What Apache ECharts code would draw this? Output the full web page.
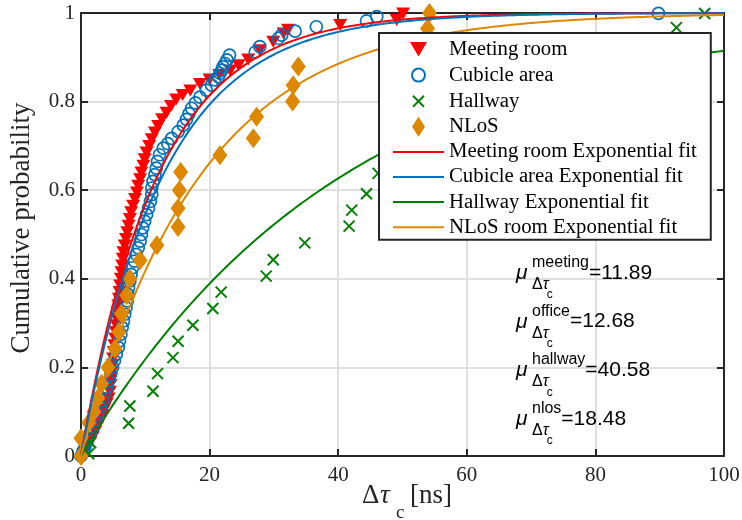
<!DOCTYPE html>
<html>
<head>
<meta charset="utf-8">
<script src="https://cdn.jsdelivr.net/npm/echarts@6/dist/echarts.min.js"></script>
<style>
  html, body { margin: 0; padding: 0; background: #ffffff; }
  #chart { width: 742px; height: 520px; }
</style>
</head>
<body>
<div id="chart"></div>
<script>
// Empirical CDF samples of the coherence delay per environment (ns, probability)
const meetingX = [0.4, 0.9, 1.4, 1.8, 2.2, 2.6, 3.0, 3.3, 3.6, 4.0, 4.3, 4.5, 4.6, 4.7, 4.8, 4.9, 5.0, 5.1, 5.2, 5.3,
  5.4, 5.5, 5.6, 5.7, 5.8, 5.9, 6.0, 6.1, 6.2, 6.3, 6.4, 6.5, 6.6, 6.8, 7.0, 7.2, 7.4, 7.6, 7.8, 8.1,
  8.4, 8.7, 8.9, 9.2, 9.4, 9.7, 9.9, 10.2, 10.6, 11.0, 11.5, 12.0, 12.6, 13.3, 14.0, 14.8, 15.8, 17.0, 18.5, 20.0,
  21.5, 23.2, 24.5, 26.0, 27.8, 29.9, 31.5, 32.2, 40.3, 49.1, 50.1];
const meetingY = [0.005, 0.017, 0.03, 0.042, 0.055, 0.067, 0.08, 0.092, 0.105, 0.118, 0.13, 0.145, 0.16, 0.175, 0.19, 0.205, 0.22, 0.235, 0.25, 0.265,
  0.28, 0.295, 0.31, 0.325, 0.34, 0.355, 0.37, 0.385, 0.40, 0.415, 0.43, 0.445, 0.46, 0.475, 0.49, 0.505, 0.52, 0.535, 0.55, 0.565,
  0.58, 0.595, 0.61, 0.625, 0.64, 0.655, 0.67, 0.685, 0.70, 0.715, 0.73, 0.745, 0.76, 0.775, 0.79, 0.805, 0.815, 0.825, 0.84, 0.85,
  0.86, 0.87, 0.882, 0.895, 0.916, 0.935, 0.954, 0.962, 0.973, 0.984, 0.999];

const cubicleX = [0.0, 0.3, 0.6, 1.0, 1.4, 1.8, 2.2, 2.6, 3.0, 3.4, 3.7, 4.0, 4.3, 4.6, 4.9, 5.2, 5.5, 5.8, 6.0, 6.2,
  6.4, 6.6, 6.8, 7.0, 7.2, 7.3, 7.4, 7.6, 7.8, 8.0, 8.3, 8.6, 8.9, 9.2, 9.4, 9.6, 9.9, 10.2, 10.5, 10.8,
  11.0, 11.0, 11.2, 11.5, 11.7, 11.9, 12.2, 12.8, 13.5, 14.1, 15.1, 15.9, 16.4, 16.8, 17.2, 17.8, 18.5, 19.5, 20.3, 20.8,
  21.4, 21.6, 21.9, 22.1, 22.4, 22.7, 23.1, 27.1, 27.8, 30.7, 31.2, 33.3, 36.6, 44.4, 46.0, 89.8];
const cubicleY = [0.0, 0.01, 0.02, 0.035, 0.05, 0.065, 0.08, 0.095, 0.11, 0.125, 0.14, 0.155, 0.17, 0.185, 0.20, 0.215, 0.23, 0.245, 0.26, 0.275,
  0.29, 0.305, 0.32, 0.335, 0.35, 0.365, 0.38, 0.395, 0.41, 0.425, 0.44, 0.455, 0.47, 0.485, 0.50, 0.515, 0.53, 0.545, 0.56, 0.575,
  0.59, 0.605, 0.62, 0.635, 0.65, 0.665, 0.68, 0.695, 0.705, 0.717, 0.732, 0.747, 0.76, 0.773, 0.785, 0.797, 0.81, 0.826, 0.837, 0.849,
  0.856, 0.864, 0.871, 0.879, 0.886, 0.894, 0.905, 0.912, 0.924, 0.943, 0.950, 0.959, 0.969, 0.982, 0.992, 0.999];

const hallwayX = [1.2, 1.5, 7.4, 7.6, 11.2, 11.9, 14.3, 15.1, 17.4, 20.5, 21.8, 28.8, 29.9, 34.8, 41.7, 42.1, 44.4, 46.2, 92.6, 97.0];
const hallwayY = [0.005, 0.03, 0.074, 0.113, 0.146, 0.186, 0.222, 0.259, 0.295, 0.333, 0.370, 0.406, 0.443, 0.481, 0.519, 0.555, 0.592, 0.638, 0.967, 0.999];

const nlosX = [0.0, 0.0, 1.2, 2.0, 2.6, 3.2, 4.2, 5.3, 5.9, 6.3, 7.1, 7.6, 9.2, 11.8, 15.1, 15.1, 15.3, 15.5, 21.6, 26.8,
  27.3, 32.9, 33.0, 33.8, 53.9, 54.2];
const nlosY = [0.0, 0.04, 0.075, 0.10, 0.13, 0.163, 0.20, 0.242, 0.28, 0.321, 0.363, 0.40, 0.442, 0.476, 0.517, 0.559, 0.60, 0.641, 0.679, 0.717,
  0.766, 0.80, 0.837, 0.879, 0.965, 1.0];

// Mean coherence delay of each exponential fit (ns)
const fitMu = [11.89, 12.68, 40.58, 18.48];
const muTags = ['meeting', 'office', 'hallway', 'nlos'];

const scatterNames = ['Meeting room', 'Cubicle area', 'Hallway', 'NLoS'];
const fitNames = ['Meeting room Exponential fit', 'Cubicle area Exponential fit', 'Hallway Exponential fit', 'NLoS room Exponential fit'];

const xTickValues = [0, 20, 40, 60, 80, 100];
const yTickLabels = ['0', '0.2', '0.4', '0.6', '0.8', '1'];

const colors = ['#FF0000', '#0072BD', '#008000', '#DE8700'];
const axisColor = '#262626';
const serif = '"Liberation Serif", "Times New Roman", serif';
const sans = '"Liberation Sans", Arial, Helvetica, sans-serif';

function pairs(xs, ys) { return xs.map((x, i) => [x, ys[i]]); }

// exponential CDF 1 - exp(-x / mu) sampled across the axis range
function fitCurve(mu) {
  const pts = [];
  for (let x = 0; x <= 100; x += 0.5) pts.push([x, 1 - Math.exp(-x / mu)]);
  return pts;
}

const chart = echarts.init(document.getElementById('chart'), null, { renderer: 'canvas' });

// marker shapes
const downTriangle = 'path://M0,0L14,0L7,12Z';
const crossPath = 'path://M0,0L10,10M10,0L0,10';
// legend icons: extra move-to points pad the bounding box so the glyph keeps its size
const legendIcons = [
  'path://M0,0M20,20M1.5,2.5L18.5,2.5L10,17Z',
  'path://M0,0M20,20M3.5,10A6.5,6.5,0,1,1,16.5,10A6.5,6.5,0,1,1,3.5,10Z',
  'path://M0,0M20,20M4.5,4.5L15.5,15.5M15.5,4.5L4.5,15.5',
  'path://M0,0M20,20M10,0L16.5,10L10,20L3.5,10Z'
];

const scatterSeries = [
  {
    name: scatterNames[0], type: 'scatter', data: pairs(meetingX, meetingY),
    symbol: downTriangle, symbolSize: [14, 12],
    itemStyle: { color: colors[0], opacity: 1 }
  },
  {
    name: scatterNames[1], type: 'scatter', data: pairs(cubicleX, cubicleY),
    symbol: 'circle', symbolSize: 12,
    itemStyle: { color: 'rgba(0,0,0,0)', borderColor: colors[1], borderWidth: 1.7, opacity: 1 }
  },
  {
    name: scatterNames[2], type: 'scatter', data: pairs(hallwayX, hallwayY),
    symbol: crossPath, symbolSize: 11,
    itemStyle: { color: 'rgba(0,0,0,0)', borderColor: colors[2], borderWidth: 2, opacity: 1 }
  },
  {
    name: scatterNames[3], type: 'scatter', data: pairs(nlosX, nlosY),
    symbol: 'diamond', symbolSize: [15, 20],
    itemStyle: { color: colors[3], opacity: 1 }
  }
];

const lineSeries = fitMu.map((mu, i) => ({
  name: fitNames[i], type: 'line', data: fitCurve(mu),
  symbol: 'none', showSymbol: false, smooth: false,
  lineStyle: { color: colors[i], width: 2 },
  itemStyle: { color: colors[i] }
}));

const legendData = scatterNames.map((n, i) => ({ name: n, icon: legendIcons[i] }))
  .concat(fitNames.map(n => ({ name: n, itemStyle: { color: 'rgba(0,0,0,0)', borderWidth: 0, opacity: 0 } })));

// text measuring for the mu annotations
const measureCtx = document.createElement('canvas').getContext('2d');
function textWidth(str, font) { measureCtx.font = font; return measureCtx.measureText(str).width; }

const graphics = [];
muTags.forEach((tag, i) => {
  const cy = 273 + 48.7 * i;
  const xMu = 516;
  const xSub = 532;
  const supFont = '16px ' + sans;
  const supW = textWidth(tag, supFont);
  const deltaW = textWidth('Δ', '16px ' + sans) + textWidth('τ', 'italic 16px ' + sans);
  graphics.push(
    { type: 'text', z: 100, x: xMu, y: cy, style: { text: 'μ', font: 'italic 21px ' + sans, fill: '#000', verticalAlign: 'middle' } },
    { type: 'text', z: 100, x: xSub, y: cy - 10.5, style: { text: tag, font: supFont, fill: '#000', verticalAlign: 'middle' } },
    { type: 'text', z: 100, x: xSub, y: cy + 11.5, style: {
        text: '{a|Δ}{b|τ}', verticalAlign: 'middle',
        rich: { a: { font: '16px ' + sans, fill: '#000' }, b: { font: 'italic 16px ' + sans, fill: '#000' } } } },
    { type: 'text', z: 100, x: xSub + deltaW - 2, y: cy + 22, style: { text: 'c', font: '12px ' + sans, fill: '#000', verticalAlign: 'middle' } },
    { type: 'text', z: 100, x: xSub + supW, y: cy, style: { text: '=' + fitMu[i].toFixed(2), font: '21px ' + sans, fill: '#000', verticalAlign: 'middle' } }
  );
});

// axis titles
graphics.push(
  { type: 'text', z: 100, x: 362, y: 496, style: { text: 'Δ', font: '27px ' + serif, fill: axisColor, verticalAlign: 'middle' } },
  { type: 'text', z: 100, x: 380, y: 496, style: { text: 'τ', font: 'italic 27px ' + serif, fill: axisColor, verticalAlign: 'middle' } },
  { type: 'text', z: 100, x: 396, y: 513, style: { text: 'c', font: '19px ' + serif, fill: axisColor, verticalAlign: 'middle' } },
  { type: 'text', z: 100, x: 410, y: 496, style: { text: '[ns]', font: '27px ' + serif, fill: axisColor, verticalAlign: 'middle' } },
  { type: 'text', z: 100, x: 22, y: 228, rotation: Math.PI / 2,
    style: { text: 'Cumulative probability', font: '27px ' + serif, fill: axisColor, align: 'center', verticalAlign: 'middle' } }
);

const option = {
  backgroundColor: '#ffffff',
  animation: false,
  grid: { left: 81, right: 18, top: 13, bottom: 64, containLabel: false, outerBoundsMode: 'none' },
  xAxis: [
    {
      type: 'value', min: 0, max: 100, interval: 20, position: 'bottom',
      axisLine: { show: true, onZero: false, lineStyle: { color: axisColor, width: 2 } },
      axisTick: { show: true, inside: true, length: 7, lineStyle: { color: axisColor, width: 2 } },
      axisLabel: { show: true, margin: 9, color: axisColor, fontFamily: serif, fontSize: 21,
        formatter: v => xTickValues.indexOf(v) >= 0 ? String(v) : '' },
      splitLine: { show: true, lineStyle: { color: '#e0e0e0', width: 2 } }
    },
    {
      type: 'value', min: 0, max: 100, interval: 20, position: 'top',
      axisLine: { show: true, onZero: false, lineStyle: { color: axisColor, width: 2 } },
      axisTick: { show: true, inside: true, length: 7, lineStyle: { color: axisColor, width: 2 } },
      axisLabel: { show: false }, splitLine: { show: false }
    }
  ],
  yAxis: [
    {
      type: 'value', min: 0, max: 1, interval: 0.2, position: 'left',
      axisLine: { show: true, onZero: false, lineStyle: { color: axisColor, width: 2 } },
      axisTick: { show: true, inside: true, length: 7, lineStyle: { color: axisColor, width: 2 } },
      axisLabel: { show: true, margin: 6, color: axisColor, fontFamily: serif, fontSize: 21,
        formatter: v => yTickLabels[Math.round(v / 0.2)] },
      splitLine: { show: true, lineStyle: { color: '#e0e0e0', width: 2 } }
    },
    {
      type: 'value', min: 0, max: 1, interval: 0.2, position: 'right',
      axisLine: { show: true, onZero: false, lineStyle: { color: axisColor, width: 2 } },
      axisTick: { show: true, inside: true, length: 7, lineStyle: { color: axisColor, width: 2 } },
      axisLabel: { show: false }, splitLine: { show: false }
    }
  ],
  legend: {
    orient: 'vertical', left: 379, top: 33,
    backgroundColor: '#ffffff', borderColor: axisColor, borderWidth: 2,
    padding: [6, 14, 2, 13], itemGap: 4.1, itemWidth: 51, itemHeight: 20,
    textStyle: { color: '#000', fontFamily: serif, fontSize: 20.8 },
    data: legendData
  },
  series: scatterSeries.concat(lineSeries),
  graphic: graphics
};

chart.setOption(option);
</script>
</body>
</html>
